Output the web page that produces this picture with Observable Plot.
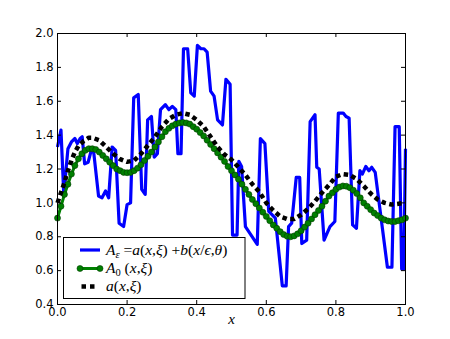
<!DOCTYPE html>
<html><head><meta charset="utf-8">
<script src="https://cdn.jsdelivr.net/npm/d3@7"></script>
<script src="https://cdn.jsdelivr.net/npm/@observablehq/plot@0.6"></script>
<style>body{margin:0;background:#fff}</style>
</head><body><div id="chart"></div>
<script>
// A_eps = a(x,xi) + b(x/eps,theta)  (blue, noisy)
const blueX = [0, 0.01, 0.018, 0.03, 0.04, 0.05, 0.057, 0.065, 0.071, 0.078, 0.088, 0.097, 0.104, 0.118, 0.128, 0.138, 0.147, 0.157, 0.167, 0.177, 0.19, 0.2, 0.21, 0.219, 0.232, 0.242, 0.252, 0.259, 0.27, 0.278, 0.287, 0.296, 0.31, 0.32, 0.33, 0.34, 0.346, 0.355, 0.362, 0.374, 0.383, 0.393, 0.402, 0.412, 0.421, 0.43, 0.44, 0.45, 0.46, 0.474, 0.484, 0.496, 0.503, 0.516, 0.521, 0.529, 0.54, 0.574, 0.583, 0.596, 0.607, 0.626, 0.646, 0.657, 0.664, 0.673, 0.686, 0.696, 0.702, 0.716, 0.726, 0.74, 0.745, 0.752, 0.766, 0.783, 0.797, 0.807, 0.821, 0.829, 0.838, 0.848, 0.859, 0.869, 0.876, 0.886, 0.895, 0.903, 0.913, 0.948, 0.961, 0.97, 0.982, 0.989, 0.995, 1.0];
const blueY = [1.33, 1.43, 1.05, 1.32, 1.36, 1.38, 1.35, 1.38, 1.39, 1.23, 1.24, 1.31, 1.30, 1.04, 1.03, 1.07, 1.03, 1.33, 1.31, 0.88, 0.86, 0.99, 1.0, 1.62, 1.64, 1.08, 1.05, 1.49, 1.51, 1.27, 1.29, 1.55, 1.58, 1.55, 1.57, 1.55, 1.29, 1.29, 1.91, 1.91, 1.65, 1.63, 1.93, 1.91, 1.91, 1.89, 1.66, 1.63, 1.49, 1.46, 1.73, 1.70, 0.81, 0.81, 1.245, 1.215, 0.86, 0.755, 1.38, 1.35, 0.95, 0.91, 0.51, 0.51, 0.86, 0.88, 1.15, 1.15, 0.76, 0.78, 1.48, 1.52, 1.21, 1.20, 0.78, 0.86, 0.89, 1.53, 1.53, 1.51, 1.50, 0.87, 0.85, 1.19, 1.17, 1.215, 1.19, 1.21, 1.18, 0.62, 0.62, 1.45, 1.45, 0.61, 0.61, 1.32];

// A_0(x,xi) (green with markers)
const greenX = [0, 0.01, 0.02, 0.03, 0.04, 0.05, 0.06, 0.07, 0.08, 0.09, 0.1, 0.11, 0.12, 0.13, 0.14, 0.15, 0.16, 0.17, 0.18, 0.19, 0.2, 0.21, 0.22, 0.23, 0.24, 0.25, 0.26, 0.27, 0.28, 0.29, 0.3, 0.31, 0.32, 0.33, 0.34, 0.35, 0.36, 0.37, 0.38, 0.39, 0.4, 0.41, 0.42, 0.43, 0.44, 0.45, 0.46, 0.47, 0.48, 0.49, 0.5, 0.51, 0.52, 0.53, 0.54, 0.55, 0.56, 0.57, 0.58, 0.59, 0.6, 0.61, 0.62, 0.63, 0.64, 0.65, 0.66, 0.67, 0.68, 0.69, 0.7, 0.71, 0.72, 0.73, 0.74, 0.75, 0.76, 0.77, 0.78, 0.79, 0.8, 0.81, 0.82, 0.83, 0.84, 0.85, 0.86, 0.87, 0.88, 0.89, 0.9, 0.91, 0.92, 0.93, 0.94, 0.95, 0.96, 0.97, 0.98, 0.99, 1.0];
const greenY = [0.91, 0.98, 1.05, 1.11, 1.17, 1.22, 1.26, 1.29, 1.31, 1.32, 1.32, 1.315, 1.30, 1.28, 1.26, 1.24, 1.22, 1.20, 1.19, 1.18, 1.178, 1.18, 1.19, 1.205, 1.225, 1.25, 1.275, 1.30, 1.33, 1.36, 1.39, 1.42, 1.44, 1.455, 1.465, 1.472, 1.475, 1.472, 1.465, 1.45, 1.435, 1.415, 1.395, 1.37, 1.345, 1.32, 1.295, 1.27, 1.245, 1.215, 1.19, 1.165, 1.14, 1.11, 1.08, 1.05, 1.02, 0.995, 0.97, 0.945, 0.92, 0.895, 0.87, 0.85, 0.83, 0.813, 0.803, 0.80, 0.805, 0.817, 0.835, 0.857, 0.88, 0.905, 0.93, 0.955, 0.98, 1.01, 1.04, 1.06, 1.08, 1.093, 1.10, 1.098, 1.09, 1.075, 1.055, 1.03, 1.0, 0.98, 0.96, 0.94, 0.925, 0.91, 0.90, 0.893, 0.89, 0.89, 0.895, 0.90, 0.91];

// a(x,xi) (black dotted)
const aX = [0, 0.01, 0.02, 0.03, 0.04, 0.05, 0.06, 0.075, 0.09, 0.1, 0.12, 0.14, 0.16, 0.18, 0.2, 0.22, 0.24, 0.26, 0.28, 0.30, 0.32, 0.34, 0.36, 0.38, 0.40, 0.42, 0.44, 0.46, 0.48, 0.50, 0.52, 0.54, 0.56, 0.58, 0.60, 0.62, 0.64, 0.66, 0.68, 0.70, 0.72, 0.74, 0.76, 0.78, 0.80, 0.82, 0.84, 0.86, 0.88, 0.90, 0.92, 0.94, 0.96, 0.98, 1.0];
const aY = [1.0, 1.06, 1.12, 1.19, 1.25, 1.30, 1.335, 1.365, 1.385, 1.385, 1.37, 1.33, 1.29, 1.258, 1.242, 1.25, 1.29, 1.34, 1.39, 1.45, 1.495, 1.52, 1.53, 1.52, 1.49, 1.45, 1.39, 1.33, 1.285, 1.255, 1.21, 1.165, 1.11, 1.065, 1.0, 0.955, 0.92, 0.905, 0.905, 0.93, 0.965, 1.01, 1.06, 1.105, 1.155, 1.17, 1.165, 1.14, 1.10, 1.055, 1.02, 1.0, 0.99, 0.995, 1.0];

const xTicks = [0, 0.2, 0.4, 0.6, 0.8, 1.0];
const yTicks = [0.4, 0.6, 0.8, 1.0, 1.2, 1.4, 1.6, 1.8, 2.0];
const legendLabels = ["A_ε =a(x,ξ) +b(x/ϵ,θ)", "A_0 (x,ξ)", "a(x,ξ)"];

const W = 450, H = 339, ML = 57, MR = 45, MT = 33, MB = 35;
const IW = W - ML - MR, IH = H - MT - MB;
const TL = 4;

const blue = blueX.map((x, i) => ({x, y: blueY[i]}));
const green = greenX.map((x, i) => ({x, y: greenY[i]}));
const black = aX.map((x, i) => ({x, y: aY[i]}));
const fmt = d3.format(".1f");

const chart = Plot.plot({
  width: W, height: H,
  marginLeft: ML, marginRight: MR, marginTop: MT, marginBottom: MB,
  style: {fontFamily: "DejaVu Sans", fontSize: "11.5px", background: "white", color: "black"},
  x: {domain: [0, 1]},
  y: {domain: [0.4, 2.0]},
  marks: [
    Plot.line(blue, {x: "x", y: "y", stroke: "#0000ff", strokeWidth: 3.2, strokeLinejoin: "round", strokeLinecap: "butt"}),
    Plot.line(green, {x: "x", y: "y", stroke: "#008000", strokeWidth: 3}),
    Plot.dot(green, {x: "x", y: "y", r: 3, fill: "#008000", stroke: "#003a00", strokeWidth: 0.6}),
    Plot.line(black, {x: "x", y: "y", stroke: "black", strokeWidth: 4.5, strokeDasharray: "4.5,3.5", strokeLinecap: "butt", strokeLinejoin: "miter"}),
    Plot.frame({stroke: "black", strokeWidth: 1}),
    Plot.ruleX(xTicks, {x: d => d, insetTop: IH - TL, stroke: "black"}),
    Plot.ruleX(xTicks, {x: d => d, insetBottom: IH - TL, stroke: "black"}),
    Plot.ruleY(yTicks, {y: d => d, insetRight: IW - TL, stroke: "black"}),
    Plot.ruleY(yTicks, {y: d => d, insetLeft: IW - TL, stroke: "black"}),
    Plot.axisX(xTicks, {tickSize: 0, tickPadding: 3, tickFormat: fmt, label: null}),
    Plot.axisY(yTicks, {tickSize: 0, tickPadding: 4, tickFormat: fmt, label: null}),
    Plot.text(["x"], {text: d => d, frameAnchor: "bottom", dy: 19, fontStyle: "italic", fontFamily: "Liberation Serif", fontSize: 15})
  ]
});
document.getElementById("chart").append(chart);

// Legend (inside axes, lower left)
const svg = d3.select(chart);
const g = svg.append("g").attr("text-anchor", "start");
g.append("rect").attr("x", 63.5).attr("y", 237.5).attr("width", 181.5).attr("height", 61)
  .attr("fill", "white").attr("stroke", "black").attr("stroke-width", 1);
const rows = [250, 268.5, 286.5];
g.append("line").attr("x1", 80).attr("x2", 100).attr("y1", rows[0]).attr("y2", rows[0])
  .attr("stroke", "#0000ff").attr("stroke-width", 3.2);
g.append("line").attr("x1", 80).attr("x2", 100).attr("y1", rows[1]).attr("y2", rows[1])
  .attr("stroke", "#008000").attr("stroke-width", 3);
[80, 100].forEach(cx => g.append("circle").attr("cx", cx).attr("cy", rows[1]).attr("r", 3)
  .attr("fill", "#008000").attr("stroke", "#003a00").attr("stroke-width", 0.6));
g.append("line").attr("x1", 81.5).attr("x2", 96).attr("y1", rows[2]).attr("y2", rows[2])
  .attr("stroke", "black").attr("stroke-width", 4.5).attr("stroke-dasharray", "4.5,4");

function mathText(y, parts) {
  const t = g.append("text").attr("x", 106).attr("y", y + 4.5).attr("text-anchor", "start")
    .attr("font-family", "Liberation Serif").attr("font-size", 15.5).attr("fill", "black");
  parts.forEach(p => {
    const s = t.append("tspan").text(p.t);
    if (p.i) s.attr("font-style", "italic");
    if (p.sub) s.attr("font-size", 10.5).attr("dy", 3);
    if (p.up) s.attr("dy", -3);
  });
}
// legendLabels[0]
mathText(rows[0], [{t: "A", i: 1}, {t: "ε", i: 1, sub: 1}, {t: " =", up: 1}, {t: "a", i: 1}, {t: "("}, {t: "x", i: 1}, {t: ","}, {t: "ξ", i: 1}, {t: ") +"}, {t: "b", i: 1}, {t: "("}, {t: "x", i: 1}, {t: "/"}, {t: "ϵ", i: 1}, {t: ","}, {t: "θ", i: 1}, {t: ")"}]);
// legendLabels[1]
mathText(rows[1], [{t: "A", i: 1}, {t: "0", sub: 1}, {t: " (", up: 1}, {t: "x", i: 1}, {t: ","}, {t: "ξ", i: 1}, {t: ")"}]);
// legendLabels[2]
mathText(rows[2], [{t: "a", i: 1}, {t: "("}, {t: "x", i: 1}, {t: ","}, {t: "ξ", i: 1}, {t: ")"}]);
</script>
</body></html>
